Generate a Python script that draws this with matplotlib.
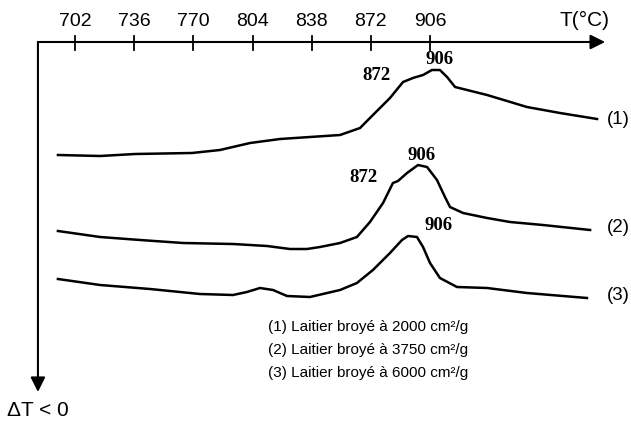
import matplotlib.pyplot as plt

# temperatures (°C) and signal (arbitrary units, up = exothermic)
t1 = [692.2, 716.4, 736.5, 769.2, 785.3, 802.6, 819.8, 837.0, 854.3, 865.8, 873.2,
      883.0, 890.5, 896.2, 902.0, 907.1, 911.7, 915.8, 920.4, 927.3, 938.8, 961.7,
      980.7, 1002.0]
s1 = [26.6, 26.5, 26.7, 26.8, 27.1, 27.8, 28.2, 28.4, 28.6, 29.3, 30.6,
      32.3, 33.9, 34.3, 34.6, 35.1, 35.1, 34.4, 33.4, 33.1, 32.6, 31.4,
      30.8, 30.2]

t2 = [692.2, 716.4, 739.4, 764.1, 792.8, 812.3, 825.5, 835.3, 842.8, 854.3, 864.0,
      871.5, 879.0, 884.7, 887.6, 892.8, 899.1, 904.3, 910.0, 914.6, 917.5, 925.0,
      938.8, 952.0, 970.9, 998.0]
s2 = [19.0, 18.4, 18.1, 17.8, 17.7, 17.5, 17.2, 17.2, 17.4, 17.8, 18.4,
      19.9, 21.8, 23.8, 24.0, 24.8, 25.6, 25.4, 24.1, 22.4, 21.4, 20.8,
      20.3, 19.9, 19.6, 19.1]

t3 = [692.2, 716.4, 745.1, 773.8, 792.8, 800.8, 808.3, 815.8, 823.8, 837.0, 854.3,
      864.0, 873.2, 883.0, 889.9, 893.4, 898.5, 902.0, 906.0, 911.7, 921.5, 938.8,
      961.7, 996.2]
s3 = [14.2, 13.6, 13.2, 12.7, 12.6, 12.9, 13.3, 13.1, 12.5, 12.4, 13.1,
      13.8, 15.1, 16.8, 18.1, 18.5, 18.4, 17.4, 15.8, 14.3, 13.4, 13.3,
      12.8, 12.3]

ticks = [702, 736, 770, 804, 838, 872, 906]
legend_lines = ["(1) Laitier broyé à 2000 cm²/g",
                "(2) Laitier broyé à 3750 cm²/g",
                "(3) Laitier broyé à 6000 cm²/g"]

plt.rcParams['font.family'] = ['Liberation Sans', 'DejaVu Sans']

fig = plt.figure(figsize=(6.31, 4.21), dpi=100)
ax = fig.add_axes([0, 0, 1, 1])
ax.set_xlim(658.9, 1021.5)
ax.set_ylim(0, 42.1)
ax.axis('off')

x0, y0 = 680.7, 37.9
arrow = dict(arrowstyle='-|>', mutation_scale=22, lw=1.5, color='k',
             shrinkA=0, shrinkB=0)
ax.annotate('', xy=(1006.6, y0), xytext=(x0, y0), arrowprops=arrow)
ax.annotate('', xy=(x0, 2.9), xytext=(x0, y0), arrowprops=arrow)

for t in ticks:
    ax.plot([t, t], [37.1, 38.5], color='k', lw=1.3)
    ax.text(t, 39.9, str(t), ha='center', va='center', fontsize=14)
ax.text(994.5, 40.1, 'T(°C)', ha='center', va='center', fontsize=15)
ax.text(680.9, 1.1, 'ΔT < 0', ha='center', va='center', fontsize=15)

for t, s, lab, ly in [(t1, s1, '(1)', 30.1), (t2, s2, '(2)', 19.4), (t3, s3, '(3)', 12.6)]:
    ax.plot(t, s, color='k', lw=1.8, solid_joinstyle='round')
    ax.text(1014.3, ly, lab, ha='center', va='center', fontsize=13.5)

peak = dict(ha='center', va='center', fontsize=13.5, fontweight='bold',
            family='Liberation Serif')
ax.text(911.7, 36.2, '906', **peak)
ax.text(875.5, 34.6, '872', **peak)
ax.text(901.4, 26.6, '906', **peak)
ax.text(867.5, 24.4, '872', **peak)
ax.text(911.2, 19.6, '906', **peak)

for i, line in enumerate(legend_lines):
    ax.text(812.9, 9.4 - 2.3 * i, line, ha='left', va='center', fontsize=11)

fig.savefig('out.png', dpi=100)
